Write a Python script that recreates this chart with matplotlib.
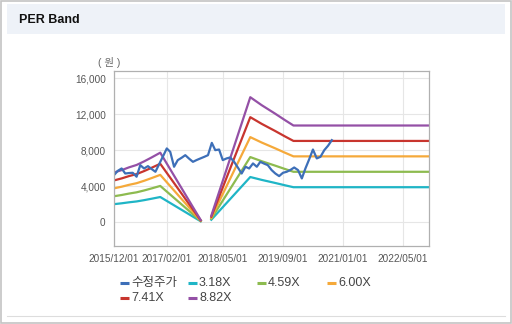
import numpy as np
import pandas as pd
import matplotlib
matplotlib.use("Agg")
import matplotlib.pyplot as plt
import matplotlib.dates as mdates
from matplotlib.patches import Rectangle
from matplotlib.lines import Line2D
from matplotlib.ticker import FuncFormatter

plt.rcParams['font.family'] = ['Liberation Sans', 'Noto Sans CJK KR', 'DejaVu Sans']

# ---- data ----
price_dates = pd.date_range('2015-12-01', '2020-10-01', freq='MS')
price = [5220, 5700, 5960, 5400, 5450, 5480, 5040, 6330, 5960, 6220, 5900, 5590,
         6440, 7300, 8190, 7810, 6150, 6890, 7150, 7440, 7050, 6700, 6900, 7080,
         7250, 7440, 8810, 8000, 8070, 6890, 7080, 7190, 6700, 6050, 5400, 6150,
         5960, 6520, 6150, 6700, 6500, 6330, 5780, 5400, 5110, 5480, 5590, 5800,
         6070, 5780, 4850, 5960, 7000, 8070, 7080, 7260, 8000, 8500, 9110]

eps_dates = ['2015-12-01', '2016-02-01', '2016-04-01', '2016-06-01', '2016-08-01',
             '2016-10-01', '2016-12-10', '2017-11-03', '2017-12-15', '2018-01-28',
             '2018-12-10', '2019-03-13', '2019-06-28', '2019-09-18', '2019-11-25',
             '2022-12-15']
eps = [625, 655, 690, 720, 765, 815, 875, 25, np.nan, 80,
       1575, 1474, 1369, 1285, 1218, 1218]

multiples = [3.18, 4.59, 6.00, 7.41, 8.82]
band_labels = ['3.18X', '4.59X', '6.00X', '7.41X', '8.82X']
price_label = '수정주가'
unit_label = '( 원 )'
title = 'PER Band'
xtick_dates = ['2015-12-01', '2017-02-01', '2018-05-01', '2019-09-01', '2021-01-01', '2022-05-01']
ytick_vals = [0, 4000, 8000, 12000, 16000]

price_color = '#3d6fb8'
band_colors = ['#1fb5c6', '#8dbb4f', '#f5a93a', '#c8352e', '#9450a6']

# ---- figure ----
W, H = 512, 324
fig = plt.figure(figsize=(W / 100, H / 100), dpi=100)
fig.patch.set_facecolor('white')

def fx(x):
    return x / W

def fy(y):
    return 1 - y / H

# outer border
fig.patches.append(Rectangle((fx(0.75), fy(323.25)), fx(510.5), 322.5 / H, transform=fig.transFigure,
                             fill=False, edgecolor='#c4c4c4', lw=1.2))
# header band
fig.patches.append(Rectangle((fx(7), fy(34)), fx(498), 30 / H, transform=fig.transFigure,
                             facecolor='#eef2f8', edgecolor='none'))
fig.text(fx(19), fy(20), title, fontsize=9, fontweight='bold', color='#111111',
         va='center', ha='left', family=['Liberation Sans'])
# bottom separator
fig.add_artist(Line2D([fx(7), fx(505)], [fy(316), fy(316)], transform=fig.transFigure,
                      color='#dddddd', lw=0.8))

ax = fig.add_axes([fx(114), fy(246), fx(429) - fx(114), (246 - 71) / H])

ed = pd.to_datetime(eps_dates)
eps_arr = np.array(eps, dtype=float)
for m, lab, c in zip(multiples, band_labels, band_colors):
    ax.plot(ed, eps_arr * m, color=c, lw=1.6, label=lab, solid_joinstyle='round')
ax.plot(price_dates, price, color=price_color, lw=1.6, label=price_label, solid_joinstyle='round')

ax.set_xlim(pd.Timestamp('2015-12-01'), pd.Timestamp('2022-11-28'))
ax.set_ylim(-2670, 16810)
ax.set_yticks(ytick_vals)
ax.yaxis.set_major_formatter(FuncFormatter(lambda v, p: f'{int(v):,}'))
ax.set_xticks(pd.to_datetime(xtick_dates))
ax.xaxis.set_major_formatter(mdates.DateFormatter('%Y/%m/%d'))
ax.tick_params(axis='both', length=0, labelsize=7.2, labelcolor='#555555')
ax.tick_params(axis='y', pad=6)
ax.tick_params(axis='x', pad=6)
ax.grid(True, color='#e6e6e6', lw=0.8)
ax.set_axisbelow(True)
for s in ax.spines.values():
    s.set_color('#b0b0b0')
    s.set_linewidth(0.9)

fig.text(fx(109), fy(62), unit_label, fontsize=7.5, color='#666666', ha='center', va='center')

# legend drawn manually in a fixed-width grid (row-major)
leg_labels = [price_label] + band_labels
leg_colors = [price_color] + band_colors
leg_x = [120, 188, 257, 327, 120, 188]
leg_y = [283, 283, 283, 283, 298, 298]
for lab, c, x, y in zip(leg_labels, leg_colors, leg_x, leg_y):
    fig.add_artist(Line2D([fx(x), fx(x + 9)], [fy(y), fy(y)], transform=fig.transFigure,
                          color=c, lw=2.2, solid_capstyle='butt'))
    fig.text(fx(x + 11), fy(y), lab, fontsize=9, color='#444444', ha='left', va='center')

fig.savefig('out.png', dpi=100)
